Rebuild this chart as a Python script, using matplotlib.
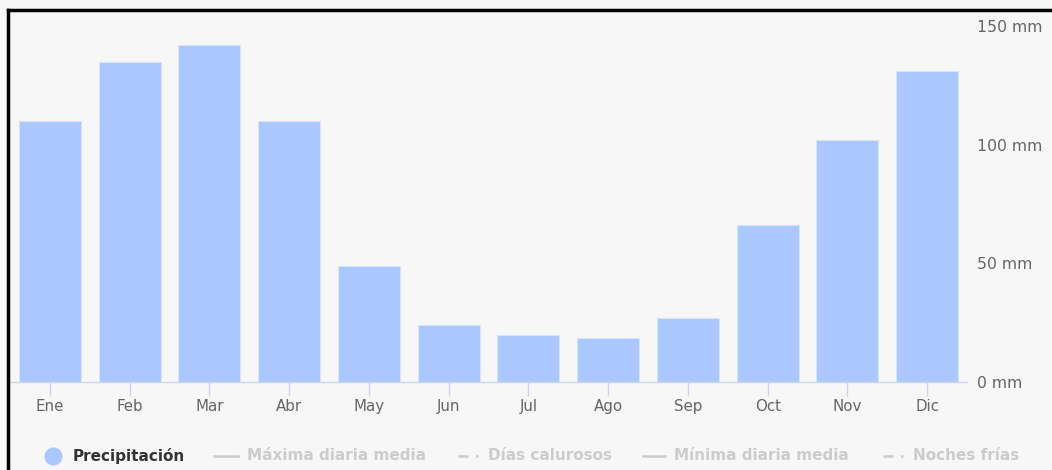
import matplotlib
matplotlib.use("Agg")
import matplotlib.pyplot as plt
from matplotlib.lines import Line2D
import numpy as np

months = ["Ene", "Feb", "Mar", "Abr", "May", "Jun", "Jul", "Ago", "Sep", "Oct", "Nov", "Dic"]
precip = [110, 135, 142, 110, 49, 24, 20, 18.5, 27, 66, 102, 131]
yticks = [0, 50, 100, 150]
ytick_labels = ["0 mm", "50 mm", "100 mm", "150 mm"]
legend_items = ["Precipitación", "Máxima diaria media", "Días calurosos", "Mínima diaria media", "Noches frías"]

W, H = 1052, 470
bg = "#f7f7f7"
bar_color = "#aac8ff"
axis_color = "#ccd6eb"
tick_color = "#666666"
legend_gray = "#cccccc"

plt.rcParams['font.family'] = ['DejaVu Sans']

fig = plt.figure(figsize=(W / 100, H / 100), dpi=100, facecolor=bg)
ax = fig.add_axes([10 / W, 1 - 382 / H, (967 - 10) / W, (382 - 26) / H])
ax.set_facecolor(bg)

x = np.arange(len(months))
ax.bar(x, precip, width=0.78, color=bar_color, edgecolor="#d6e4ff", linewidth=0.8, zorder=2)

ax.set_xlim(-0.5, len(months) - 0.5)
ax.set_ylim(0, 150)
ax.set_xticks(x)
ax.set_xticklabels(months, fontsize=10.8, color=tick_color)
ax.tick_params(axis="x", length=10, width=1, color=axis_color, pad=2)
ax.yaxis.tick_right()
ax.set_yticks(yticks)
ax.set_yticklabels(ytick_labels, fontsize=11.3, color=tick_color)
ax.tick_params(axis="y", length=0, pad=7)

for s in ["top", "left", "right"]:
    ax.spines[s].set_visible(False)
ax.spines["bottom"].set_color(axis_color)
ax.spines["bottom"].set_linewidth(1)

# border (top and left visible)
fig.add_artist(Line2D([8 / W, 1.0], [1 - 10 / H, 1 - 10 / H], transform=fig.transFigure, color="black", lw=2.5))
fig.add_artist(Line2D([8 / W, 8 / W], [0, 1 - 10 / H], transform=fig.transFigure, color="black", lw=2.5))

# legend
ly = 1 - 456 / H
fig.add_artist(Line2D([53 / W], [ly], transform=fig.transFigure, marker="o", markersize=12,
                      color=bar_color, linestyle="none"))
fig.text(73 / W, ly, legend_items[0], fontsize=11, fontweight="bold", color="#333333", va="center", ha="left")

entries = [
    (214, 238, "-", 247, legend_items[1]),
    (458, 483, (0, (4, 3, 1, 3)), 488, legend_items[2]),
    (643, 665, "-", 674, legend_items[3]),
    (883, 905, (0, (4, 3, 1, 3)), 913, legend_items[4]),
]
for x0, x1, ls, tx, label in entries:
    fig.add_artist(Line2D([x0 / W, x1 / W], [ly, ly], transform=fig.transFigure,
                          color=legend_gray, lw=1.8, linestyle=ls))
    fig.text(tx / W, ly, label, fontsize=11, fontweight="bold", color=legend_gray, va="center", ha="left")

fig.savefig("out.png", dpi=100, facecolor=bg)
